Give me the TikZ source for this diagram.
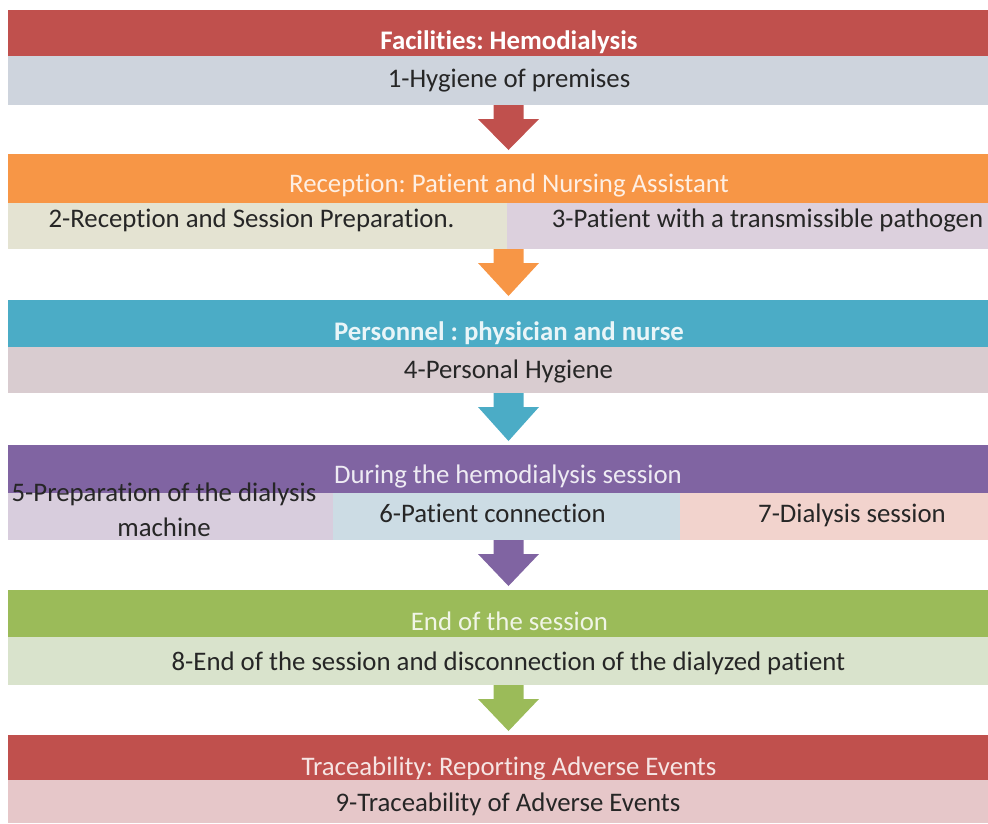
\documentclass[tikz,border=0pt]{standalone}
\usepackage{fontspec}
\setmainfont{Carlito}[Ligatures={NoCommon}]
\usetikzlibrary{calc}
\frenchspacing

% Office-style palette
\definecolor{redH}{HTML}{C0504D}
\definecolor{orangeH}{HTML}{F79646}
\definecolor{tealH}{HTML}{4BACC6}
\definecolor{purpleH}{HTML}{8064A2}
\definecolor{greenH}{HTML}{9BBB59}
\definecolor{rowA}{HTML}{CED4DD}
\definecolor{rowBl}{HTML}{E4E3D2}
\definecolor{rowBr}{HTML}{DCD0DD}
\definecolor{rowC}{HTML}{D9CCD0}
\definecolor{rowDa}{HTML}{D8CDDD}
\definecolor{rowDb}{HTML}{CCDCE4}
\definecolor{rowDc}{HTML}{F2D3CD}
\definecolor{rowE}{HTML}{D9E3CC}
\definecolor{rowF}{HTML}{E6C7C9}
\definecolor{ink}{HTML}{262626}

\tikzset{
  band/.style={anchor=north west, inner sep=0pt, outer sep=0pt, minimum width=#1, draw=none},
  band/.default=980pt,
  label/.style={anchor=base, inner sep=0pt, font=\fontsize{26.8}{34.5}\selectfont},
  rowtext/.style={label, text=ink},
  headtext/.style={label, text=#1},
  boldhead/.style={headtext=#1, font=\fontsize{26.8}{34.5}\selectfont\bfseries},
}

% block arrow from the bottom of one band to the top of the next
\newcommand\flowarrow[3]{%
  \fill[#1] ($(#2.south -| ax)+(-15,0)$) -- ($(#2.south -| ax)+(15,0)$)
    -- ($(#2.south -| ax)+(15,14)$) -- ($(#2.south -| ax)+(30.5,14)$)
    -- ($(#3.north -| ax)+(0,-4)$)
    -- ($(#2.south -| ax)+(-30.5,14)$) -- ($(#2.south -| ax)+(-15,14)$) -- cycle;}

\begin{document}
\begin{tikzpicture}[x=1pt, y=-1pt]
\useasboundingbox (0,0) rectangle (988,823);
\coordinate (ax) at (508.5,0);

% stage 1
\node[band, fill=redH, minimum height=46pt] (h1) at (8,10) {};
\node[band, fill=rowA, minimum height=49pt] (r1) at (8,56) {};
% stage 2
\node[band, fill=orangeH, minimum height=49pt] (h2) at (8,154) {};
\node[band=499pt, fill=rowBl, minimum height=46pt] (r2a) at (8,203) {};
\node[band=481pt, fill=rowBr, minimum height=46pt] (r2b) at (507,203) {};
% stage 3
\node[band, fill=tealH, minimum height=47pt] (h3) at (8,300) {};
\node[band, fill=rowC, minimum height=46pt] (r3) at (8,347) {};
% stage 4
\node[band, fill=purpleH, minimum height=48pt] (h4) at (8,445) {};
\node[band=325pt, fill=rowDa, minimum height=47pt] (r4a) at (8,493) {};
\node[band=347pt, fill=rowDb, minimum height=47pt] (r4b) at (333,493) {};
\node[band=308pt, fill=rowDc, minimum height=47pt] (r4c) at (680,493) {};
% stage 5
\node[band, fill=greenH, minimum height=47pt] (h5) at (8,590) {};
\node[band, fill=rowE, minimum height=48pt] (r5) at (8,637) {};
% stage 6
\node[band, fill=redH, minimum height=45pt] (h6) at (8,735) {};
\node[band, fill=rowF, minimum height=43pt] (r6) at (8,780) {};

% arrows between stages
\flowarrow{redH}{r1}{h2}
\flowarrow{orangeH}{r2a}{h3}
\flowarrow{tealH}{r3}{h4}
\flowarrow{purpleH}{r4b}{h5}
\flowarrow{greenH}{r5}{h6}

% texts
\node[boldhead=white] (t1) at (509,49) {Facilities: Hemodialysis};
\node[rowtext] (s1) at (509,87) {1-Hygiene of premises};

\node[headtext=white!85!orangeH] (t2) at (509,192.5) {Reception: Patient and Nursing Assistant};
\node[rowtext] (s2) at (251.5,227.5) {2-Reception and Session Preparation.};
\node[rowtext] (s3) at (767.5,227.5) {3-Patient with a transmissible pathogen};

\node[boldhead=white!88!tealH] (t3) at (509,340) {Personnel : physician and nurse};
\node[rowtext] (s4) at (508.5,378) {4-Personal Hygiene};

\node[headtext=white!87!purpleH] (t4) at (508,483) {During the hemodialysis session};
\node[rowtext, align=center] (s5) at (164,536) {5-Preparation of the dialysis\\machine};
\node[rowtext] (s6) at (492.5,522) {6-Patient connection};
\node[rowtext] (s7) at (852,522) {7-Dialysis session};

\node[headtext=white!85!greenH] (t5) at (509.5,630) {End of the session};
\node[rowtext] (s8) at (508.5,670) {8-End of the session and disconnection of the dialyzed patient};

\node[headtext=white!85!redH] (t6) at (509,775) {Traceability: Reporting Adverse Events};
\node[rowtext] (s9) at (508,811.5) {9-Traceability of Adverse Events};
\end{tikzpicture}
\end{document}
